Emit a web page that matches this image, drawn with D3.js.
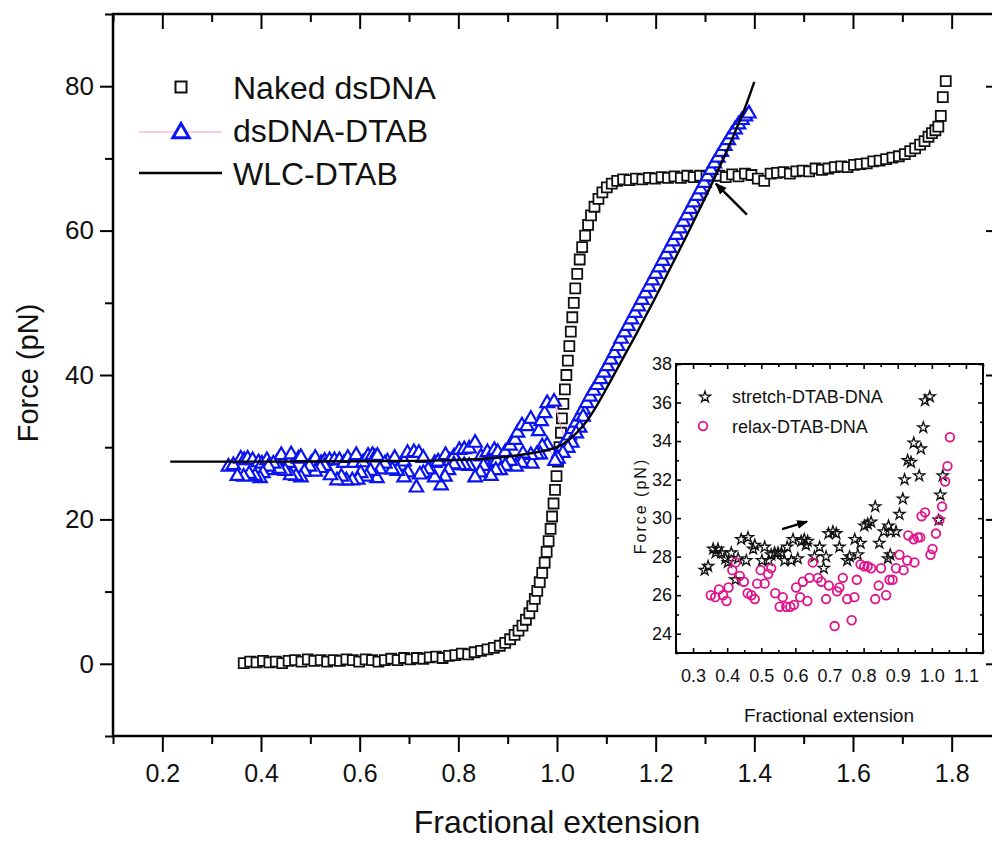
<!DOCTYPE html>
<html>
<head>
<meta charset="utf-8">
<script src="https://cdn.jsdelivr.net/npm/d3@7"></script>
<style>
  html, body { margin: 0; padding: 0; background: #fff; }
  svg { display: block; font-family: "Liberation Sans", Arial, Helvetica, sans-serif; }
</style>
</head>
<body>
<svg id="chart" width="992" height="842"></svg>
<script>
// ---------- Main panel: naked dsDNA stretching curve ----------
const nakedX = [0.365,0.378,0.391,0.404,0.417,0.430,0.443,0.456,0.469,0.482,0.495,0.508,0.521,0.534,0.547,0.560,0.573,0.586,0.599,0.612,0.625,0.638,0.651,0.664,0.677,0.690,0.703,0.716,0.729,0.742,0.755,0.768,0.781,0.794,0.807,0.820,0.833,0.846,0.859,0.872,0.884,0.895,0.905,0.914,0.922,0.930,0.937,0.944,0.950,0.955,0.960,0.965,0.970,0.975,0.979,0.983,0.987,0.990,0.993,0.996,0.999,1.002,1.005,1.008,1.010,1.013,1.016,1.019,1.022,1.025,1.028,1.031,1.034,1.037,1.041,1.046,1.051,1.057,1.063,1.069,1.076,1.084,1.092,1.101,1.111,1.122,1.134,1.147,1.160,1.173,1.186,1.199,1.212,1.225,1.238,1.251,1.264,1.277,1.290,1.303,1.316,1.329,1.342,1.355,1.368,1.381,1.394,1.407,1.420,1.433,1.446,1.459,1.472,1.485,1.498,1.511,1.524,1.537,1.550,1.563,1.576,1.589,1.602,1.615,1.628,1.641,1.654,1.667,1.680,1.693,1.705,1.716,1.726,1.736,1.745,1.753,1.760,1.767,1.773,1.778,1.782,1.788];
const nakedY = [0.1,0.3,0.2,0.4,0.2,0.3,0.1,0.4,0.5,0.3,0.6,0.4,0.5,0.3,0.5,0.4,0.6,0.5,0.3,0.6,0.5,0.3,0.5,0.7,0.5,0.8,0.6,0.8,0.7,0.9,1.0,0.8,1.1,1.2,1.4,1.3,1.6,1.8,2.0,2.2,2.5,2.9,3.4,4.0,4.6,5.3,6.1,7.0,8.0,9.0,10.1,11.3,12.6,14.0,15.5,17.0,18.7,20.4,22.2,24.1,26.0,28.0,30.0,32.0,34.0,36.0,38.0,40.0,42.0,44.0,46.0,48.0,50.0,52.0,54.0,56.0,57.7,59.3,60.8,62.1,63.3,64.4,65.3,66.0,66.5,66.9,67.1,67.0,67.2,67.1,67.3,67.2,67.4,67.3,67.5,67.3,67.6,67.4,67.6,67.5,67.7,67.6,67.4,67.8,67.5,67.9,67.7,67.2,66.9,67.9,68.0,68.1,67.9,68.2,68.3,68.2,68.6,68.4,68.6,68.8,68.9,68.8,69.1,69.2,69.3,69.6,69.7,69.9,70.1,70.3,70.6,71.0,71.4,71.9,72.4,73.0,73.5,73.9,74.4,75.9,78.5,80.7];

// ---------- DTAB-coated DNA: stretch and relax runs (also shown in the inset) ----------
const stretchX = [0.334,0.344,0.359,0.366,0.373,0.383,0.395,0.402,0.412,0.424,0.432,0.441,0.456,0.461,0.476,0.481,0.502,0.510,0.522,0.529,0.539,0.549,0.559,0.568,0.576,0.588,0.593,0.607,0.617,0.626,0.631,0.636,0.656,0.671,0.683,0.690,0.697,0.710,0.720,0.729,0.752,0.759,0.774,0.783,0.791,0.802,0.812,0.822,0.834,0.846,0.859,0.871,0.873,0.878,0.880,0.895,0.905,0.915,0.920,0.929,0.939,0.947,0.963,0.968,0.975,0.980,0.994,1.020,1.025,1.032];
const stretchY = [27.3,27.5,28.4,28.2,28.4,28.2,27.9,27.7,28.2,26.8,27.9,28.9,27.8,29.0,28.4,28.6,27.8,28.5,27.8,28.1,28.2,28.2,28.2,27.8,28.5,27.8,28.9,27.9,28.8,28.9,28.6,28.8,28.0,28.5,27.4,28.0,29.2,29.3,29.2,28.5,27.8,28.0,28.9,28.1,28.7,29.6,29.7,29.8,30.6,28.7,29.3,27.9,29.6,28.1,29.3,29.3,30.2,31.0,32.0,33.0,32.9,33.9,32.2,33.6,34.7,36.1,36.3,29.9,31.2,32.2];
const relaxX = [0.352,0.365,0.376,0.388,0.398,0.404,0.415,0.425,0.437,0.449,0.460,0.471,0.481,0.488,0.498,0.510,0.520,0.529,0.541,0.554,0.563,0.573,0.585,0.596,0.602,0.614,0.622,0.635,0.641,0.651,0.666,0.676,0.690,0.698,0.715,0.722,0.729,0.739,0.752,0.765,0.773,0.780,0.791,0.802,0.812,0.822,0.834,0.844,0.851,0.866,0.876,0.885,0.895,0.905,0.917,0.928,0.931,0.947,0.949,0.959,0.966,0.970,0.980,0.996,1.002,1.012,1.022,1.030,1.039,1.046,1.053];
const relaxY = [26.0,25.9,26.3,26.0,25.7,26.4,27.3,27.7,27.0,26.7,26.1,26.0,25.8,26.6,27.3,26.6,27.1,27.4,26.1,25.4,25.9,25.4,25.4,25.5,26.4,25.9,26.7,25.7,26.9,27.7,26.9,26.7,25.8,26.5,24.4,26.2,26.4,26.9,25.8,24.7,25.9,26.8,27.6,27.5,27.5,27.4,25.8,26.5,27.4,26.0,26.8,26.8,27.4,28.1,27.3,27.8,29.1,28.9,27.7,29.0,29.0,30.1,30.3,28.1,28.4,29.2,29.9,30.6,31.9,32.7,34.2];

// high-extension part of the DTAB-coated DNA curve
const dtabHighX = [1.004,1.011,1.018,1.025,1.032,1.039,1.046,1.053,1.060,1.067,1.074,1.081,1.088,1.095,1.102,1.109,1.116,1.123,1.130,1.137,1.144,1.151,1.158,1.165,1.172,1.179,1.186,1.193,1.200,1.207,1.214,1.221,1.228,1.235,1.242,1.249,1.256,1.263,1.270,1.277,1.284,1.291,1.298,1.305,1.312,1.319,1.326,1.333,1.340,1.347,1.354,1.361,1.368,1.375,1.382,1.389];
const dtabHighY = [29.2,30.0,30.8,31.6,32.5,33.4,34.3,35.2,36.1,37.0,37.8,38.6,39.4,40.3,41.2,42.1,43.0,44.0,45.0,45.9,46.8,47.7,48.6,49.5,50.4,51.3,52.2,53.1,54.0,54.9,55.8,56.7,57.6,58.5,59.4,60.3,61.2,62.1,63.0,63.9,64.8,65.7,66.6,67.5,68.4,69.3,70.1,70.9,71.7,72.5,73.3,74.0,74.7,75.3,75.8,76.2];

// worm-like-chain fit for DTAB-coated DNA
const wlcX = [0.216,0.4,0.6,0.7,0.8,0.85,0.9,0.95,0.98,1.0,1.02,1.04,1.06,1.08,1.10,1.12,1.14,1.16,1.18,1.20,1.22,1.24,1.26,1.28,1.30,1.32,1.34,1.36,1.38,1.40];
const wlcY = [28.0,28.0,28.05,28.1,28.25,28.4,28.7,29.2,29.6,30.0,30.8,32.0,33.6,35.7,38.1,40.6,43.1,45.6,48.2,50.8,53.5,56.2,58.9,61.7,64.5,67.4,70.4,73.5,76.8,80.6];

// axis ticks
const mainXMajor = [0.2,0.4,0.6,0.8,1.0,1.2,1.4,1.6,1.8];
const mainXMinor = [0.1,0.3,0.5,0.7,0.9,1.1,1.3,1.5,1.7,1.9];
const mainYMajor = [0,20,40,60,80];
const mainYMinor = [-10,10,30,50,70,90];
const insetXMajor = [0.3,0.4,0.5,0.6,0.7,0.8,0.9,1.0,1.1];
const insetXMinor = [0.25,0.35,0.45,0.55,0.65,0.75,0.85,0.95,1.05,1.15];
const insetYMajor = [24,26,28,30,32,34,36,38];
const insetYMinor = [23,25,27,29,31,33,35,37];

// arrows marking the features
const mainArrow = [[1.385, 62.2], [1.322, 66.5]];
const insetArrow = [[0.561, 29.43], [0.634, 29.82]];

const seriesNames = ["Naked dsDNA", "dsDNA-DTAB", "WLC-DTAB"];
const insetNames = ["stretch-DTAB-DNA", "relax-DTAB-DNA"];

// ---------- drawing ----------
const svg = d3.select("#chart");
const FONT = '"Liberation Sans", Arial, Helvetica, sans-serif';
const BLUE = "#0a14f0";
const PINK = "#f39bd0";
const MAGENTA = "#e0128a";

svg.append("defs").append("marker")
  .attr("id", "head").attr("viewBox", "0 0 10 10")
  .attr("refX", 9).attr("refY", 5)
  .attr("markerWidth", 5).attr("markerHeight", 5)
  .attr("markerUnits", "strokeWidth")
  .attr("orient", "auto")
  .append("path").attr("d", "M0,1 L10,5 L0,9 Z").attr("fill", "#000");

const x = d3.scaleLinear().domain([0.1, 1.9]).range([113, 1001]);
const y = d3.scaleLinear().domain([-10, 90]).range([736, 14]);

function styleAxis(g, fs) {
  g.select(".domain").remove();
  g.selectAll(".tick line").attr("stroke", "#000").attr("stroke-width", 2);
  g.selectAll("text").attr("fill", "#111").style("font-family", FONT).style("font-size", fs + "px");
}

const axes = svg.append("g");
axes.append("g").attr("transform", "translate(0,736)")
  .call(d3.axisBottom(x).tickValues(mainXMajor).tickSize(16).tickPadding(12).tickFormat(d3.format(".1f")))
  .call(g => styleAxis(g, 25));
axes.append("g").attr("transform", "translate(0,736)")
  .call(d3.axisBottom(x).tickValues(mainXMinor).tickSize(8).tickFormat(""))
  .call(g => styleAxis(g, 25));
axes.append("g").attr("transform", "translate(0,14)")
  .call(d3.axisTop(x).tickValues(mainXMajor).tickSize(-15).tickFormat(""))
  .call(g => styleAxis(g, 25));
axes.append("g").attr("transform", "translate(0,14)")
  .call(d3.axisTop(x).tickValues(mainXMinor).tickSize(-8).tickFormat(""))
  .call(g => styleAxis(g, 25));
axes.append("g").attr("transform", "translate(113,0)")
  .call(d3.axisLeft(y).tickValues(mainYMajor).tickSize(13).tickPadding(6).tickFormat(d3.format("d")))
  .call(g => styleAxis(g, 26));
axes.append("g").attr("transform", "translate(113,0)")
  .call(d3.axisLeft(y).tickValues(mainYMinor).tickSize(8).tickFormat(""))
  .call(g => styleAxis(g, 26));
axes.append("g").attr("transform", "translate(1001,0)")
  .call(d3.axisRight(y).tickValues(mainYMajor).tickSize(-15).tickFormat(""))
  .call(g => styleAxis(g, 26));
axes.append("g").attr("transform", "translate(1001,0)")
  .call(d3.axisRight(y).tickValues(mainYMinor).tickSize(-8).tickFormat(""))
  .call(g => styleAxis(g, 26));

svg.append("rect").attr("x", x(0.1)).attr("y", y(90))
  .attr("width", x(1.9) - x(0.1)).attr("height", y(-10) - y(90))
  .attr("fill", "none").attr("stroke", "#000").attr("stroke-width", 2.5);

// axis titles
svg.append("text").attr("x", 557).attr("y", 833).attr("text-anchor", "middle")
  .style("font-size", "32px").attr("fill", "#111").text("Fractional extension");
svg.append("text").attr("transform", "translate(38,373) rotate(-90)").attr("text-anchor", "middle")
  .style("font-size", "29px").attr("fill", "#111").text("Force (pN)");

// naked dsDNA squares
const sq = d3.symbol(d3.symbolSquare, 100);
svg.append("g").selectAll("path").data(d3.range(nakedX.length)).join("path")
  .attr("d", sq).attr("transform", i => `translate(${x(nakedX[i])},${y(nakedY[i])})`)
  .attr("fill", "#fff").attr("stroke", "#111").attr("stroke-width", 1.8);

// DTAB-coated DNA: stretch run, high-extension run, then relax run back down
const dtabPts = [];
stretchX.forEach((v, i) => dtabPts.push([v, stretchY[i]]));
dtabHighX.forEach((v, i) => dtabPts.push([v, dtabHighY[i]]));
for (let i = relaxX.length - 1; i >= 0; i--) dtabPts.push([relaxX[i], relaxY[i]]);

svg.append("path").datum(dtabPts)
  .attr("d", d3.line().x(d => x(d[0])).y(d => y(d[1])))
  .attr("fill", "none").attr("stroke", PINK).attr("stroke-width", 1);

const tri = d3.symbol(d3.symbolTriangle, 78);
svg.append("g").selectAll("path").data(dtabPts).join("path")
  .attr("d", tri).attr("transform", d => `translate(${x(d[0])},${y(d[1])})`)
  .attr("fill", "#fff").attr("stroke", BLUE).attr("stroke-width", 2.2);

// WLC fit
svg.append("path").datum(d3.zip(wlcX, wlcY))
  .attr("d", d3.line().curve(d3.curveMonotoneX).x(d => x(d[0])).y(d => y(d[1])))
  .attr("fill", "none").attr("stroke", "#000").attr("stroke-width", 2.4);

// arrow pointing at the crossing
svg.append("line")
  .attr("x1", x(mainArrow[0][0])).attr("y1", y(mainArrow[0][1]))
  .attr("x2", x(mainArrow[1][0])).attr("y2", y(mainArrow[1][1]))
  .attr("stroke", "#000").attr("stroke-width", 2.4).attr("marker-end", "url(#head)");

// legend
const leg = svg.append("g");
leg.append("path").attr("d", d3.symbol(d3.symbolSquare, 121)).attr("transform", "translate(181,87)")
  .attr("fill", "#fff").attr("stroke", "#111").attr("stroke-width", 2);
leg.append("line").attr("x1", 139).attr("x2", 222).attr("y1", 132).attr("y2", 132)
  .attr("stroke", PINK).attr("stroke-width", 1.2);
leg.append("path").attr("d", d3.symbol(d3.symbolTriangle, 115)).attr("transform", "translate(181,133)")
  .attr("fill", "#fff").attr("stroke", BLUE).attr("stroke-width", 3);
leg.append("line").attr("x1", 139).attr("x2", 222).attr("y1", 173).attr("y2", 173)
  .attr("stroke", "#000").attr("stroke-width", 2.4);
[99, 142, 185].forEach((by, i) => {
  leg.append("text").attr("x", 233).attr("y", by).style("font-size", "32px")
    .attr("fill", "#111").text(seriesNames[i]);
});

// ---------- inset: stretch vs relax of DTAB-coated DNA ----------
const ix = d3.scaleLinear().domain([0.25, 1.15]).range([676, 983]);
const iy = d3.scaleLinear().domain([23, 38]).range([653, 364]);
const inset = svg.append("g");

inset.append("rect").attr("x", ix(0.25)).attr("y", iy(38))
  .attr("width", ix(1.15) - ix(0.25)).attr("height", iy(23) - iy(38)).attr("fill", "#fff");

inset.append("g").attr("transform", `translate(0,${iy(23)})`)
  .call(d3.axisBottom(ix).tickValues(insetXMajor).tickSize(-5).tickPadding(16).tickFormat(d3.format(".1f")))
  .call(g => styleAxis(g, 18));
inset.append("g").attr("transform", `translate(0,${iy(23)})`)
  .call(d3.axisBottom(ix).tickValues(insetXMinor).tickSize(-3).tickFormat(""))
  .call(g => styleAxis(g, 18));
inset.append("g").attr("transform", `translate(0,${iy(38)})`)
  .call(d3.axisTop(ix).tickValues(insetXMajor).tickSize(-5).tickFormat(""))
  .call(g => styleAxis(g, 18));
inset.append("g").attr("transform", `translate(0,${iy(38)})`)
  .call(d3.axisTop(ix).tickValues(insetXMinor).tickSize(-3).tickFormat(""))
  .call(g => styleAxis(g, 18));
inset.append("g").attr("transform", `translate(${ix(0.25)},0)`)
  .call(d3.axisLeft(iy).tickValues(insetYMajor).tickSize(-5).tickPadding(4).tickFormat(d3.format("d")))
  .call(g => styleAxis(g, 18));
inset.append("g").attr("transform", `translate(${ix(0.25)},0)`)
  .call(d3.axisLeft(iy).tickValues(insetYMinor).tickSize(-3).tickFormat(""))
  .call(g => styleAxis(g, 18));
inset.append("g").attr("transform", `translate(${ix(1.15)},0)`)
  .call(d3.axisRight(iy).tickValues(insetYMajor).tickSize(-5).tickFormat(""))
  .call(g => styleAxis(g, 18));
inset.append("g").attr("transform", `translate(${ix(1.15)},0)`)
  .call(d3.axisRight(iy).tickValues(insetYMinor).tickSize(-3).tickFormat(""))
  .call(g => styleAxis(g, 18));
inset.selectAll(".tick line").attr("stroke-width", 1.6);

inset.append("rect").attr("x", ix(0.25)).attr("y", iy(38))
  .attr("width", ix(1.15) - ix(0.25)).attr("height", iy(23) - iy(38))
  .attr("fill", "none").attr("stroke", "#000").attr("stroke-width", 2);

inset.append("text").attr("x", 829).attr("y", 722).attr("text-anchor", "middle")
  .style("font-size", "19px").attr("fill", "#111").text("Fractional extension");
inset.append("text").attr("transform", "translate(646,506) rotate(-90)").attr("text-anchor", "middle")
  .style("font-size", "16px").style("letter-spacing", "2px").attr("fill", "#111").text("Force (pN)");

const star = d3.symbol(d3.symbolStar, 38);
inset.append("g").selectAll("path").data(d3.range(stretchX.length)).join("path")
  .attr("d", star).attr("transform", i => `translate(${ix(stretchX[i])},${iy(stretchY[i])})`)
  .attr("fill", "none").attr("stroke", "#111").attr("stroke-width", 1.3);
inset.append("g").selectAll("circle").data(d3.range(relaxX.length)).join("circle")
  .attr("cx", i => ix(relaxX[i])).attr("cy", i => iy(relaxY[i])).attr("r", 4.3)
  .attr("fill", "none").attr("stroke", MAGENTA).attr("stroke-width", 1.8);

inset.append("line")
  .attr("x1", ix(insetArrow[0][0])).attr("y1", iy(insetArrow[0][1]))
  .attr("x2", ix(insetArrow[1][0])).attr("y2", iy(insetArrow[1][1]))
  .attr("stroke", "#000").attr("stroke-width", 2.2).attr("marker-end", "url(#head)");

// inset legend
inset.append("path").attr("d", star).attr("transform", "translate(705,397)")
  .attr("fill", "none").attr("stroke", "#111").attr("stroke-width", 1.3);
inset.append("circle").attr("cx", 703).attr("cy", 426).attr("r", 4.3)
  .attr("fill", "none").attr("stroke", MAGENTA).attr("stroke-width", 1.8);
[403, 433].forEach((by, i) => {
  inset.append("text").attr("x", 732).attr("y", by).style("font-size", "18px")
    .attr("fill", "#111").text(insetNames[i]);
});
</script>
</body>
</html>
